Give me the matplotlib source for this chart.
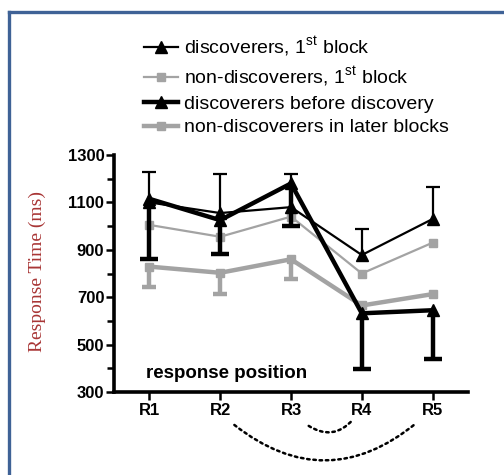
import matplotlib
matplotlib.use("Agg")
import matplotlib.pyplot as plt
from matplotlib.lines import Line2D
import numpy as np

OUT_FILE = "out.png"

positions = ["R1", "R2", "R3", "R4", "R5"]

disc_first = [1100, 1055, 1080, 878, 1030]
disc_first_err_up = [127, 163, 141, 108, 136]

nondisc_first = [1005, 955, 1040, 800, 930]

disc_before = [1115, 1025, 1180, 632, 645]
disc_before_err_down = [254, 144, 180, 236, 205]

nondisc_later = [829, 803, 860, 665, 713]
nondisc_later_err_down = [87, 91, 83, 0, 0]

labels = [r"discoverers, 1$^{\rm st}$ block",
          r"non-discoverers, 1$^{\rm st}$ block",
          "discoverers before discovery",
          "non-discoverers in later blocks"]

plt.rcParams["font.family"] = ["Liberation Sans", "DejaVu Sans"]
plt.rcParams["mathtext.fontset"] = "custom"
plt.rcParams["mathtext.rm"] = "Liberation Sans"

BLACK = "black"
GRAY = "#a3a3a3"


def draw_series(ax, x, y, down, up, color, lw, marker, ms, capsize, zorder):
    down = np.zeros(len(y)) if down is None else np.asarray(down)
    up = np.zeros(len(y)) if up is None else np.asarray(up)
    eb = ax.errorbar(x, y, yerr=[down, up], color=color, lw=lw, marker=marker,
                     ms=ms, mec=color, mfc=color, capsize=capsize,
                     capthick=lw, elinewidth=lw, zorder=zorder, clip_on=False)
    # only keep caps away from the mean (one-sided bars)
    for cap in eb[1]:
        yd = np.asarray(cap.get_ydata(), dtype=float)
        yd = np.where(np.isclose(yd, np.asarray(y, dtype=float)), np.nan, yd)
        cap.set_ydata(yd)
    return eb[0]


def create_graph():
    fig = plt.figure(figsize=(5.04, 4.75), dpi=100)
    ax = fig.add_axes([114 / 504, 1 - 392 / 475, (468 - 114) / 504, (392 - 155) / 475])
    x = np.arange(1, len(positions) + 1)

    h4 = draw_series(ax, x, nondisc_later, nondisc_later_err_down, None, GRAY, 3.2, "s", 6, 4.8, 2)
    h2 = draw_series(ax, x, nondisc_first, None, None, GRAY, 1.6, "s", 6, 4.5, 3)
    h1 = draw_series(ax, x, disc_first, None, disc_first_err_up, BLACK, 1.6, "^", 8, 4.8, 4)
    h3 = draw_series(ax, x, disc_before, disc_before_err_down, None, BLACK, 3.2, "^", 8, 6.2, 5)

    ax.set_xlim(0.5, 5.5)
    ax.set_ylim(300, 1300)
    ax.set_xticks(x)
    ax.set_xticklabels(positions, fontsize=12, fontweight="bold")
    ax.set_yticks(np.arange(300, 1301, 200))
    ax.set_yticks(np.arange(400, 1300, 200), minor=True)
    ax.tick_params(axis="y", labelsize=12, width=1.8, length=6, pad=1)
    ax.tick_params(axis="y", which="minor", width=1.8, length=5)
    ax.tick_params(axis="x", width=1.8, length=6, pad=2)
    for t in ax.get_yticklabels():
        t.set_fontweight("bold")
    for s in ["top", "right"]:
        ax.spines[s].set_visible(False)
    for s in ["left", "bottom"]:
        ax.spines[s].set_linewidth(2.6)

    ax.text(0.09, 0.08, "response position", transform=ax.transAxes,
            fontsize=13.5, fontweight="bold", va="center", ha="left")

    # dotted arcs under the axis
    arc = dict(arrowstyle="-", linestyle=(0, (1, 1.5)), lw=1.8, color="black",
               shrinkA=0, shrinkB=0)
    ax.annotate("", xy=(4.77, -0.131), xytext=(2.2, -0.139),
                xycoords=("data", "axes fraction"), textcoords=("data", "axes fraction"),
                arrowprops=dict(arc, connectionstyle="arc3,rad=0.4"))
    ax.annotate("", xy=(3.87, -0.118), xytext=(3.25, -0.143),
                xycoords=("data", "axes fraction"), textcoords=("data", "axes fraction"),
                arrowprops=dict(arc, connectionstyle="arc3,rad=0.42"))

    fig.text(37 / 504, 1 - 272 / 475, "Response Time (ms)", rotation=90,
             family="Liberation Serif", fontsize=14, color="#a83535",
             ha="center", va="center")

    fig.legend([h1, h2, h3, h4], labels, loc="upper left",
               bbox_to_anchor=(144 / 504, 1 - 35 / 475), frameon=False,
               fontsize=14, borderpad=0, borderaxespad=0, labelspacing=0.3,
               handlelength=1.75, handletextpad=0.3)

    # blue frame
    fig.add_artist(Line2D([8.5 / 504, 1], [1 - 11.5 / 475, 1 - 11.5 / 475],
                          color="#3f6296", lw=2.4))
    fig.add_artist(Line2D([8.5 / 504, 8.5 / 504], [0, 1 - 11.5 / 475],
                          color="#3f6296", lw=2.4))
    return fig


def save_graph(fig, imageFile):
    fig.savefig(imageFile, dpi=100)


if __name__ == "__main__":
    fig = create_graph()
    save_graph(fig, OUT_FILE)
